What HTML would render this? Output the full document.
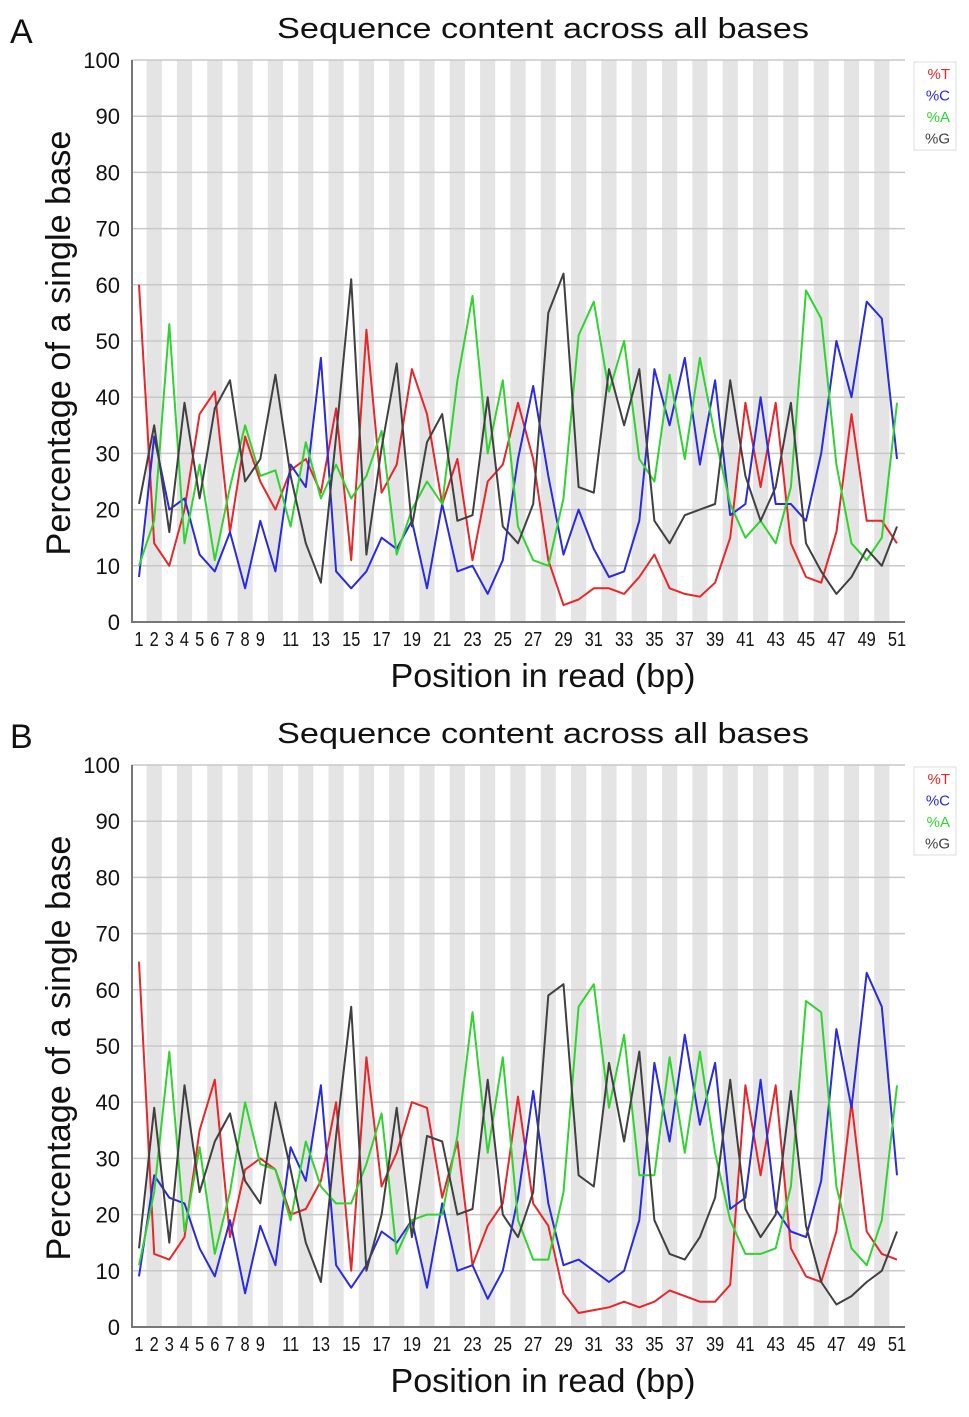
<!DOCTYPE html>
<html><head><meta charset="utf-8">
<style>
body{margin:0;background:#fff;}
svg text{font-family:"Liberation Sans",sans-serif;}
</style></head>
<body>
<svg id="svg" width="969" height="1412" viewBox="0 0 969 1412" xmlns="http://www.w3.org/2000/svg"></svg>
<script>
const positions = [];
for (let i = 1; i <= 51; i++) positions.push(i);
const xTickLabels = ["1","2","3","4","5","6","7","8","9","11","13","15","17","19","21","23","25","27","29","31","33","35","37","39","41","43","45","47","49","51"];
const yTickLabels = [0,10,20,30,40,50,60,70,80,90,100];
const seriesNames = ["%T","%C","%A","%G"];
const seriesColors = ["#e8262b","#2a2ae0","#2fd42f","#404040"];

const aT = [60,14,10,20,37,41,16,33,25,20,27,29,23,38,11,52,23,28,45,37,21,29,11,25,28,39,29,11,3,4,6,6,5,8,12,6,5,4.5,7,15,39,24,39,14,8,7,16,37,18,18,14];
const aC = [8,33,20,22,12,9,16,6,18,9,28,24,47,9,6,9,15,13,18,6,21,9,10,5,11,29,42,26,12,20,13,8,9,18,45,35,47,28,43,19,21,40,21,21,18,30,50,40,57,54,29];
const aA = [10,18,53,14,28,11,24,35,26,27,17,32,22,28,22,26,34,12,20,25,21,43,58,30,43,17,11,10,22,51,57,41,50,29,25,44,29,47,33,21,15,18,14,24,59,54,28,14,11,15,39];
const aG = [21,35,16,39,22,38,43,25,29,44,26,14,7,33,61,12,31,46,17,32,37,18,19,40,17,14,21,55,62,24,23,45,35,45,18,14,19,20,21,43,26,18,24,39,14,9,5,8,13,10,17];

const bT = [65,13,12,16,35,44,16,28,30,28,20,21,26,40,10,48,25,31,40,39,23,33,11,18,22,41,22,18,6,2.5,3,3.5,4.5,3.5,4.5,6.5,5.5,4.5,4.5,7.5,43,27,43,14,9,8,17,40,17,13,12];
const bC = [9,27,23,22,14,9,19,6,18,11,32,26,43,11,7,11,17,15,19,7,22,10,11,5,10,23,42,22,11,12,10,8,10,19,47,33,52,36,47,21,23,44,21,17,16,26,53,39,63,57,27];
const bA = [11,24,49,17,32,13,24,40,29,28,19,33,25,22,22,29,38,13,19,20,20,34,56,31,48,19,12,12,24,57,61,39,52,27,27,48,31,49,31,19,13,13,14,25,58,56,25,14,11,19,43];
const bG = [14,39,15,43,24,33,38,26,22,40,28,15,8,34,57,10,20,39,16,34,33,20,21,44,20,16,24,59,61,27,25,47,33,49,19,13,12,16,23,44,21,16,20,42,18,8,4,5.5,8,10,17];

const NS = "http://www.w3.org/2000/svg";
const svg = document.getElementById('svg');
function mk(tag, attrs, parent, text){
  const e = document.createElementNS(NS, tag);
  for (const k in attrs) e.setAttribute(k, attrs[k]);
  if (text !== undefined) e.textContent = text;
  (parent || svg).appendChild(e);
  return e;
}

function drawPanel(letter, top, seriesData, nameSuffix){
  const g = mk('g', {});
  
  
  const left = 132, right = 905, yTop = top, yBot = top + 562;
  const xS = p => 139 + (p - 1) * 15.16;
  const yS = v => yBot - v * 5.62;

  const lt = mk('text', {x: 10, y: top - 17, 'font-size': 34, fill: '#111'}, g, letter);
  
  
  const tt = mk('text', {x: 543, y: top - 22, 'font-size': 29, 'text-anchor': 'middle', fill: '#111', textLength: 532, lengthAdjust: 'spacingAndGlyphs'}, g, 'Sequence content across all bases');
  
  

  positions.forEach(p => {
    if (p % 2 === 0) {
      const r = mk('rect', {x: xS(p) - 7.6, y: yTop, width: 15.2, height: yBot - yTop, fill: '#e4e4e4'}, g);
      
      
    }
  });
  yTickLabels.forEach(v => {
    const l = mk('line', {x1: left, x2: right, y1: yS(v), y2: yS(v), stroke: '#c8c8c8', 'stroke-width': 1.5}, g);
    
    
    const t = mk('text', {x: 120, y: yS(v) + 8, 'font-size': 22, 'text-anchor': 'end', fill: '#111'}, g, String(v));
    
    
  });
  const ax = mk('path', {d: `M${left} ${yTop} V${yBot} H${right}`, stroke: '#777', 'stroke-width': 2, fill: 'none'}, g);
  
  
  xTickLabels.forEach(s => {
    const t = mk('text', {x: xS(+s), y: yBot + 24, 'font-size': 20, 'text-anchor': 'middle', fill: '#111', transform: `translate(${xS(+s)} 0) scale(0.82 1) translate(${-xS(+s)} 0)`}, g, s);
    
    
  });
  const xt = mk('text', {x: 543, y: yBot + 65, 'font-size': 33, 'text-anchor': 'middle', fill: '#111', textLength: 305, lengthAdjust: 'spacingAndGlyphs'}, g, 'Position in read (bp)');
  
  
  const yc = (yTop + yBot) / 2 + 2;
  const yt = mk('text', {x: 70, y: yc, 'font-size': 34, 'text-anchor': 'middle', fill: '#111', transform: `rotate(-90 70 ${yc})`, textLength: 425, lengthAdjust: 'spacingAndGlyphs'}, g, 'Percentage of a single base');
  
  

  seriesData.forEach((arr, si) => {
    const d = arr.map((v, i) => (i ? 'L' : 'M') + xS(positions[i]).toFixed(1) + ' ' + yS(v).toFixed(1)).join(' ');
    const p = mk('path', {d: d, stroke: seriesColors[si], 'stroke-width': 2, fill: 'none', 'stroke-linejoin': 'round'}, g);
    
    
  });

  const lg = mk('g', {}, g);
  
  
  mk('rect', {x: 914, y: top + 2, width: 42, height: 88, fill: '#fff', stroke: '#ddd'}, lg);
  seriesNames.forEach((n, i) => {
    const t = mk('text', {x: 950, y: top + 19 + i * 21.5, 'font-size': 15, 'text-anchor': 'end', fill: seriesColors[i]}, lg, n);
    
    
  });
}

drawPanel('A', 60, [aT, aC, aA, aG], 'a');
drawPanel('B', 765, [bT, bC, bA, bG], 'b');
</script>
</body></html>
